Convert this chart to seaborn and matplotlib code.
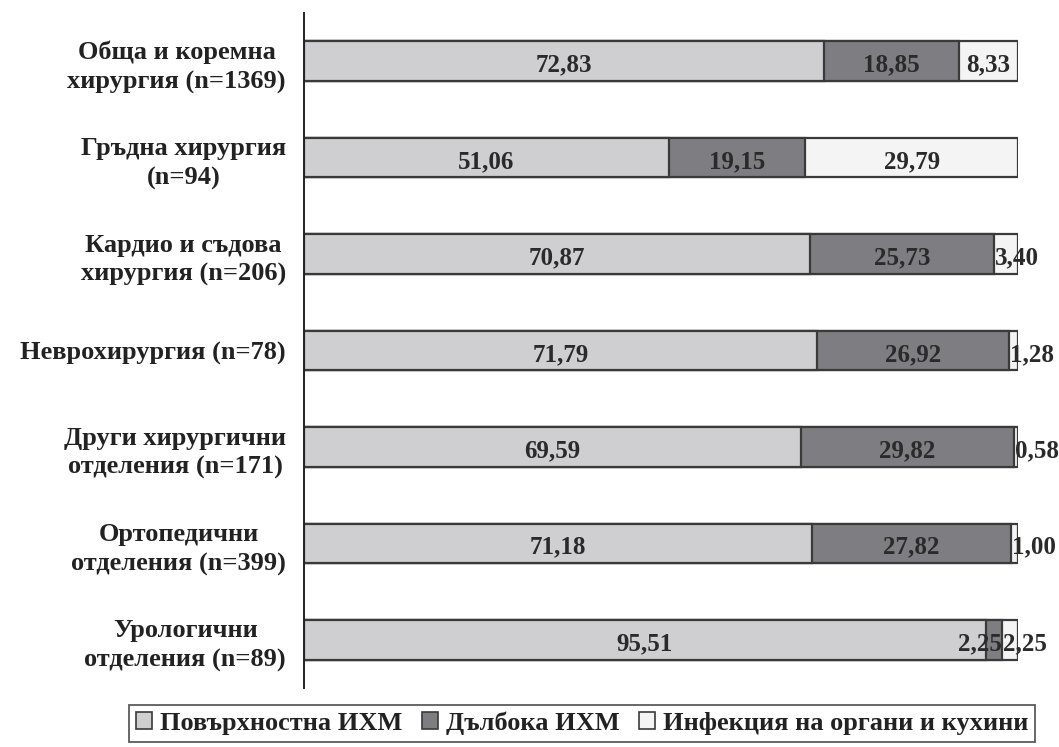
import matplotlib
matplotlib.use("Agg")
import matplotlib.pyplot as plt
from matplotlib.patches import Patch
import numpy as np
import pandas as pd
import seaborn as sns

categories = [
    "Обща и коремна\nхирургия (n=1369)",
    "Гръдна хирургия\n(n=94)",
    "Кардио и съдова\nхирургия (n=206)",
    "Неврохирургия (n=78)",
    "Други хирургични\nотделения (n=171)",
    "Ортопедични\nотделения (n=399)",
    "Урологични\nотделения (n=89)",
]
surface = [72.83, 51.06, 70.87, 71.79, 69.59, 71.18, 95.51]
deep = [18.85, 19.15, 25.73, 26.92, 29.82, 27.82, 2.25]
organ = [8.33, 29.79, 3.40, 1.28, 0.58, 1.00, 2.25]
series_names = ["Повърхностна ИХМ", "Дълбока ИХМ", "Инфекция на органи и кухини"]

colors = ["#cfcfd1", "#7e7e82", "#f4f4f4"]
edge = "#3a3a3a"

sns.set_theme(style="white")
plt.rcParams["font.family"] = ["Liberation Serif", "DejaVu Serif"]
plt.rcParams["font.weight"] = "bold"

df = pd.DataFrame({"cat": categories, "s": surface, "d": deep, "o": organ})
df["c1"] = df["s"]
df["c2"] = df["s"] + df["d"]
df["c3"] = df["s"] + df["d"] + df["o"]

fig = plt.figure(figsize=(10.59, 7.47), dpi=100)
ax = fig.add_axes([304 / 1059, 1 - 688 / 747, (1018 - 304) / 1059, (688 - 13) / 747])

# stacked bars: draw cumulative totals from the outermost layer inwards
for col, c in zip(["c3", "c2", "c1"], colors[::-1]):
    sns.barplot(data=df, y="cat", x=col, orient="h", color=c, width=0.41,
                edgecolor=edge, linewidth=1.6, saturation=1, ax=ax)

ax.set_xlim(0, 100)
ax.set_ylim(6.5, -0.5)
ax.set_xlabel("")
ax.set_ylabel("")
ax.set_xticks([])
for s in ["top", "right", "bottom"]:
    ax.spines[s].set_visible(False)
ax.spines["left"].set_color("#222222")
ax.spines["left"].set_linewidth(1.4)
ax.tick_params(axis="y", length=0, pad=13, labelsize=19)
for t in ax.get_yticklabels():
    t.set_multialignment("center")
    t.set_fontweight("bold")
    t.set_color("#222222")
    t.set_linespacing(1.35)
    t.set_va("center_baseline")

# value labels
for i in range(len(categories)):
    starts = [0, surface[i], surface[i] + deep[i]]
    vals = [surface[i], deep[i], organ[i]]
    for k, (st, v) in enumerate(zip(starts, vals)):
        txt = f"{v:.2f}".replace(".", ",")
        if v >= 5:
            x, ha = st + v / 2, "center"
        elif k == 2:
            x, ha = st + 0.2, "left"
        else:
            x, ha = st + v, "right"
        ax.text(x, i + 0.04, txt, ha=ha, va="center", fontsize=18,
                fontweight="bold", color="#2a2a2a")

handles = [Patch(facecolor=c, edgecolor=edge, linewidth=1.2) for c in colors]
leg = fig.legend(handles, series_names, loc="upper center",
                 bbox_to_anchor=(582 / 1059, 1 - 705 / 747), ncol=3, frameon=True,
                 fancybox=False, fontsize=19, handlelength=0.6, handleheight=0.6,
                 handletextpad=0.3, columnspacing=0.75, borderpad=0.25,
                 borderaxespad=0)
leg.get_frame().set_edgecolor("#333333")
leg.get_frame().set_linewidth(1.3)
for t in leg.get_texts():
    t.set_fontweight("bold")
    t.set_color("#222222")

fig.savefig("out.png", dpi=100)
